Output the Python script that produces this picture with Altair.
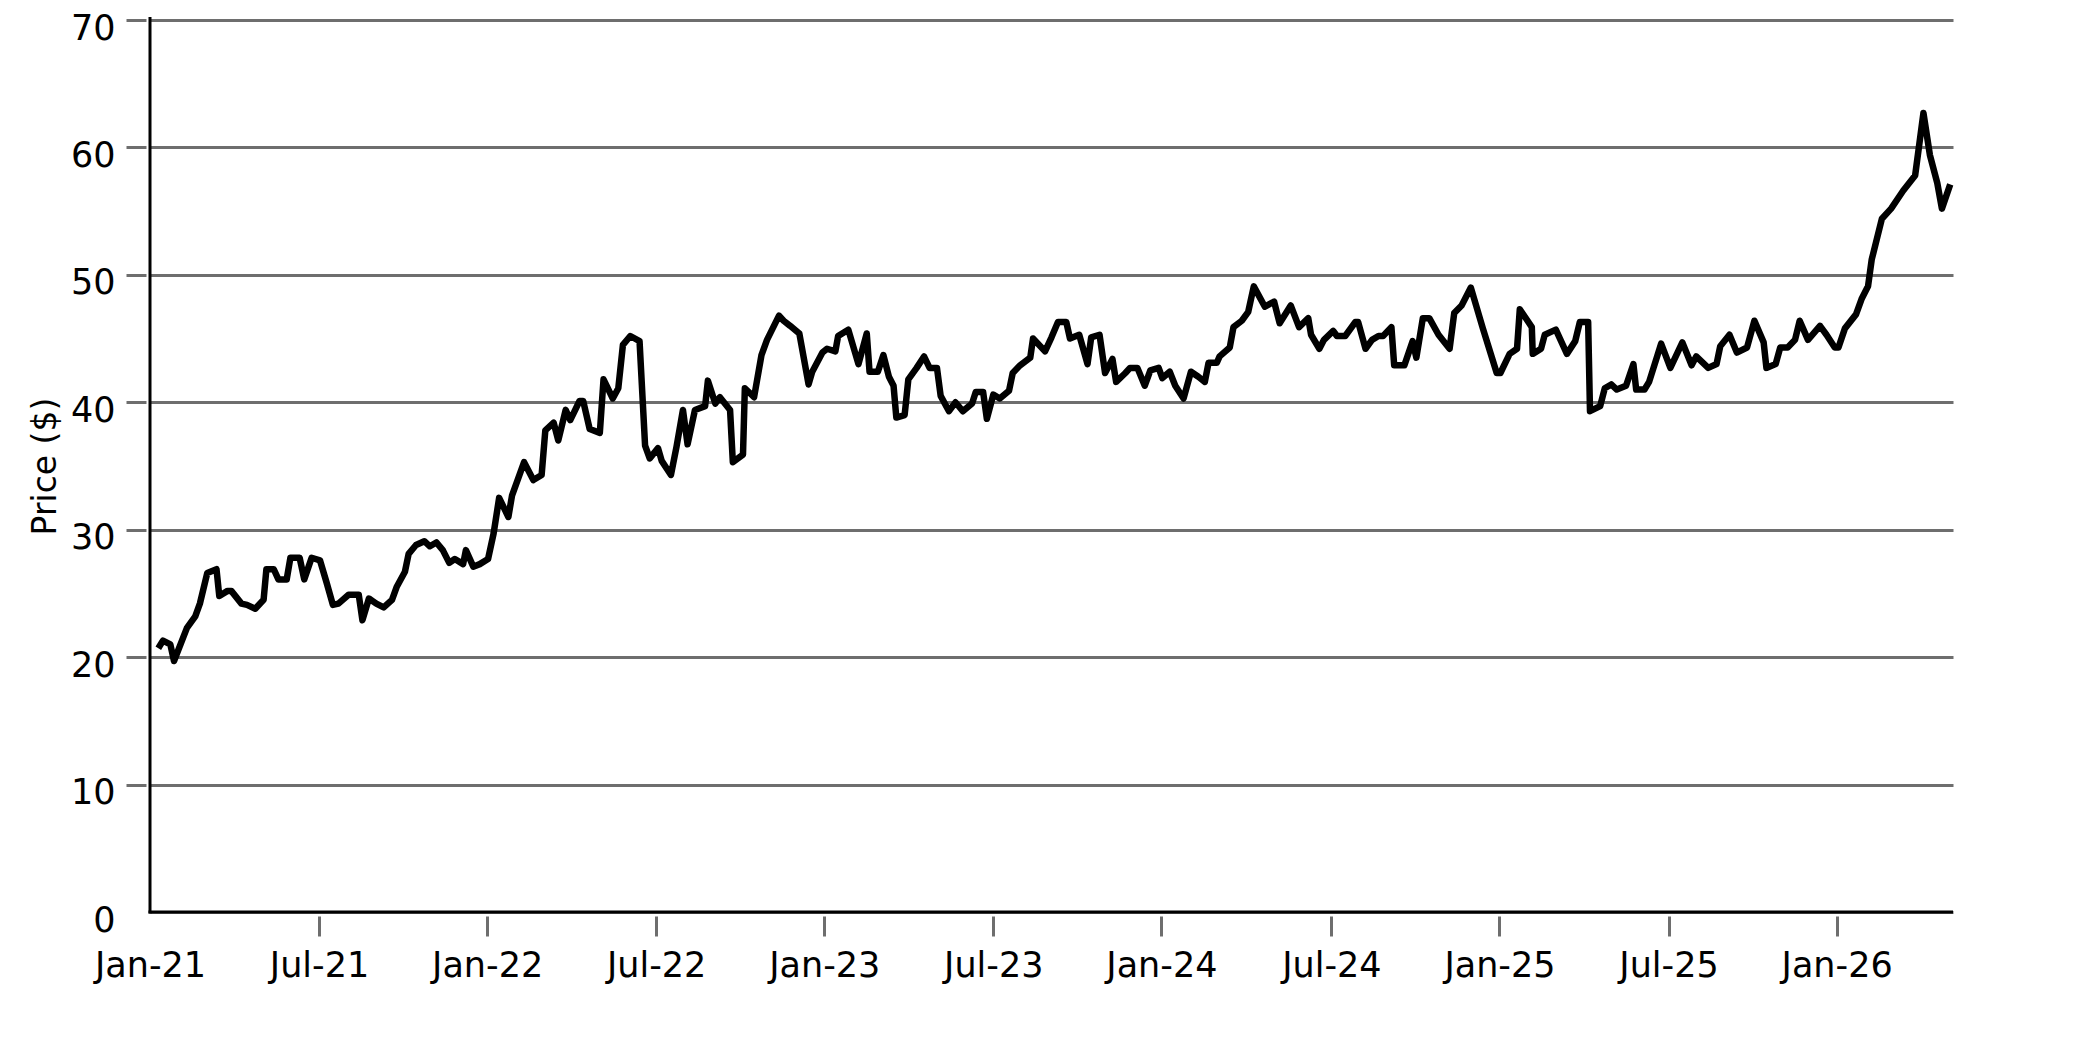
import altair as alt
import pandas as pd

# Weekly closing prices (vertices of the line).
START = "2021-01-01"
days_since_start = [
    9, 14, 22, 26, 40, 49, 54, 62, 72, 75, 84, 88, 99, 105, 114, 123, 126, 134, 139, 148,
    152, 162, 167, 175, 184, 191, 198, 204, 215, 226, 230, 237, 245, 253, 262, 267, 276, 280, 288, 297,
    303, 310, 317, 324, 330, 339, 342, 350, 357, 366, 372, 378, 388, 392, 405, 415, 424, 428, 437, 442,
    450, 455, 465, 469, 476, 487, 491, 501, 507, 512, 520, 530, 536, 541, 550, 554, 564, 570, 577, 582,
    590, 601, 604, 612, 617, 628, 631, 642, 644, 654, 662, 668, 681, 686, 693, 703, 713, 717, 728, 733,
    742, 745, 756, 767, 776, 779, 788, 794, 800, 805, 808, 817, 821, 830, 838, 844, 852, 856, 865, 872,
    880, 890, 894, 902, 906, 913, 920, 930, 934, 942, 953, 956, 969, 976, 983, 992, 996, 1006, 1015, 1019,
    1028, 1034, 1042, 1046, 1056, 1061, 1069, 1077, 1083, 1092, 1096, 1104, 1110, 1119, 1127, 1135, 1142, 1146, 1155, 1158,
    1169, 1173, 1182, 1189, 1195, 1207, 1217, 1223, 1235, 1244, 1254, 1257, 1266, 1271, 1281, 1285, 1294, 1305, 1308, 1316,
    1323, 1330, 1335, 1344, 1347, 1358, 1367, 1371, 1378, 1385, 1395, 1407, 1412, 1420, 1430, 1443, 1458, 1462, 1472, 1480,
    1483, 1496, 1497, 1506, 1510, 1522, 1534, 1543, 1548, 1557, 1559, 1570, 1575, 1582, 1588, 1598, 1606, 1609, 1618, 1623,
    1636, 1646, 1659, 1669, 1674, 1687, 1696, 1700, 1710, 1718, 1729, 1737, 1747, 1750, 1760, 1765, 1773, 1781, 1786, 1795,
    1808, 1815, 1824, 1828, 1835, 1847, 1853, 1860, 1864, 1875, 1885, 1898, 1911, 1920, 1927, 1935, 1940, 1949,
]
price = [
    20.7, 21.3, 21.0, 19.7, 22.3, 23.2, 24.2, 26.6, 26.9, 24.8, 25.2, 25.2, 24.2, 24.1, 23.8, 24.5, 26.9, 26.9, 26.1, 26.1,
    27.8, 27.8, 26.1, 27.8, 27.6, 25.9, 24.1, 24.2, 24.9, 24.9, 22.9, 24.6, 24.2, 23.9, 24.5, 25.5, 26.7, 28.1, 28.8, 29.1,
    28.7, 29.0, 28.4, 27.4, 27.7, 27.3, 28.4, 27.1, 27.3, 27.7, 29.7, 32.5, 31.0, 32.7, 35.3, 33.9, 34.3, 37.8, 38.4, 37.0,
    39.4, 38.6, 40.1, 40.1, 37.9, 37.6, 41.8, 40.3, 41.1, 44.5, 45.2, 44.8, 36.6, 35.6, 36.4, 35.4, 34.3, 36.5, 39.4, 36.7,
    39.4, 39.7, 41.7, 39.9, 40.4, 39.4, 35.3, 35.9, 41.1, 40.4, 43.7, 44.9, 46.8, 46.4, 46.0, 45.4, 41.4, 42.4, 43.9, 44.2,
    44.0, 45.2, 45.7, 43.0, 45.4, 42.4, 42.4, 43.7, 42.0, 41.3, 38.8, 39.0, 41.8, 42.7, 43.6, 42.7, 42.7, 40.5, 39.3, 40.0,
    39.3, 39.9, 40.8, 40.8, 38.7, 40.6, 40.3, 40.9, 42.3, 42.9, 43.5, 45.0, 44.0, 45.1, 46.3, 46.3, 45.0, 45.3, 43.0, 45.1,
    45.3, 42.3, 43.4, 41.6, 42.3, 42.7, 42.7, 41.3, 42.5, 42.7, 41.9, 42.4, 41.3, 40.3, 42.4, 42.0, 41.6, 43.1, 43.1, 43.6,
    44.3, 45.9, 46.4, 47.1, 49.1, 47.5, 47.9, 46.2, 47.6, 45.9, 46.6, 45.3, 44.2, 44.9, 45.6, 45.2, 45.2, 46.3, 46.3, 44.2,
    44.9, 45.2, 45.2, 45.9, 42.9, 42.9, 44.8, 43.5, 46.6, 46.6, 45.3, 44.2, 47.0, 47.6, 49.0, 45.8, 42.3, 42.3, 43.8, 44.2,
    47.3, 45.9, 43.8, 44.2, 45.3, 45.7, 43.8, 44.8, 46.3, 46.3, 39.3, 39.7, 41.1, 41.4, 41.0, 41.3, 43.0, 41.0, 41.0, 41.6,
    44.6, 42.7, 44.7, 42.9, 43.6, 42.7, 43.0, 44.4, 45.3, 43.9, 44.3, 46.4, 44.7, 42.7, 43.0, 44.3, 44.3, 44.9, 46.4, 44.9,
    46.0, 45.3, 44.3, 44.3, 45.8, 46.9, 48.1, 49.1, 51.2, 54.4, 55.2, 56.6, 57.8, 62.7, 59.4, 57.2, 55.2, 57.1,
]
y_ticks = [0, 10, 20, 30, 40, 50, 60, 70]
# (year, month, day) of each x tick
x_tick_dates = [(2021, 1, 1), (2021, 7, 3), (2022, 1, 1), (2022, 7, 3), (2023, 1, 1), (2023, 7, 3),
                (2024, 1, 1), (2024, 7, 3), (2025, 1, 1), (2025, 7, 3), (2026, 1, 1)]

df = pd.DataFrame({
    "date": pd.Timestamp(START) + pd.to_timedelta(days_since_start, unit="D"),
    "price": price,
})

W, H = 1803, 892
GRAY = "#6e6e6e"
FONT = "DejaVu Sans"

x_axis = alt.Axis(
    values=[alt.DateTime(year=y, month=m, date=d) for y, m, d in x_tick_dates],
    format="%b-%y", title=None, grid=False, domain=False,
    offset=4, tickSize=20, tickWidth=3,
    tickColor={"condition": {"test": "datum.value < datetime(2021, 0, 2)", "value": "transparent"}, "value": GRAY},
    labelFont=FONT, labelFontSize=35, labelColor="black", labelPadding=12,
    labelAngle=0, labelFlush=False, labelOverlap=False,
)
y_axis = alt.Axis(
    values=y_ticks, title="Price ($)", grid=True, gridColor=GRAY, gridWidth=3,
    domain=False, offset=4, tickSize=20, tickWidth=3,
    tickColor={"condition": {"test": "datum.value === 0", "value": "transparent"}, "value": GRAY},
    labelFont=FONT, labelFontSize=35, labelColor="black", labelPadding=11,
    labelOffset=8, labelFlush=False,
    titleFont=FONT, titleFontSize=33, titleFontWeight="normal", titleColor="black",
    titlePadding=8,
)

line = alt.Chart(df).mark_line(color="black", strokeWidth=6.5, strokeJoin="round").encode(
    x=alt.X("date:T", axis=x_axis,
            scale=alt.Scale(domain=[alt.DateTime(year=2021, month=1, date=1),
                                    alt.DateTime(year=2026, month=5, date=7)])),
    y=alt.Y("price:Q", axis=y_axis, scale=alt.Scale(domain=[0, 70], nice=False)),
)

one = pd.DataFrame({"k": [0]})
y_line = alt.Chart(one).mark_rule(color="black", strokeWidth=3).encode(
    x=alt.value(0), y=alt.value(-3), y2=alt.value(H + 1.5))
x_line = alt.Chart(one).mark_rule(color="black", strokeWidth=3).encode(
    x=alt.value(-1.5), x2=alt.value(W), y=alt.value(H))

chart = alt.layer(line, y_line, x_line).properties(
    width=W, height=H,
    autosize=alt.AutoSizeParams(type="none"),
    padding={"left": 142, "top": 12, "right": 60, "bottom": 100},
).configure_view(stroke=None)

chart.save("out.html", embed_options={"renderer": "svg", "actions": False})
